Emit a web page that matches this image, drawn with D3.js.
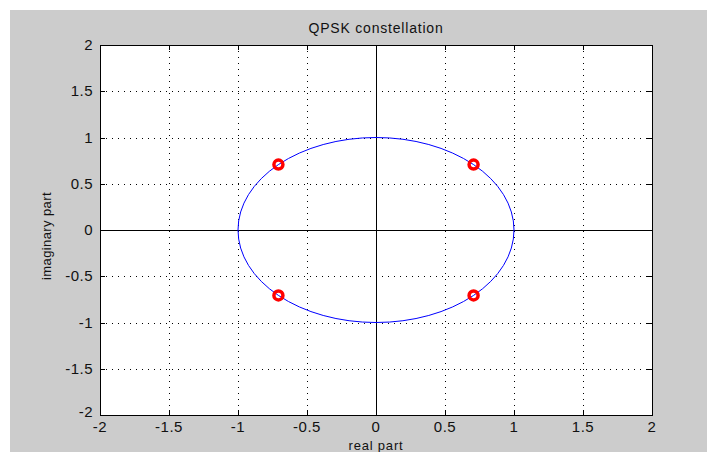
<!DOCTYPE html>
<html>
<head>
<meta charset="utf-8">
<script src="https://cdn.jsdelivr.net/npm/d3@7"></script>
<style>
  html, body { margin: 0; padding: 0; background: #fff; }
  svg { display: block; font-family: "Liberation Sans", Arial, sans-serif; }
</style>
</head>
<body>
<svg id="chart" width="707" height="452"></svg>
<script>
// ---- data ----
const xTicks = [-2, -1.5, -1, -0.5, 0, 0.5, 1, 1.5, 2];
const yTicks = [-2, -1.5, -1, -0.5, 0, 0.5, 1, 1.5, 2];
const symbolsRe = [0.7071, -0.7071, -0.7071, 0.7071];
const symbolsIm = [0.7071, 0.7071, -0.7071, -0.7071];
const unitRadius = [1];

const svg = d3.select("#chart");
const W = 707, H = 452;
const plot = { left: 100, top: 45, right: 652, bottom: 415 };

// figure background
svg.append("rect").attr("x", 10).attr("y", 10).attr("width", W - 10).attr("height", H - 10)
  .attr("fill", "#cccccc");

const x = d3.scaleLinear().domain([-2, 2]).range([plot.left, plot.right]);
const y = d3.scaleLinear().domain([-2, 2]).range([plot.bottom, plot.top]);

// axes background
svg.append("rect")
  .attr("x", plot.left).attr("y", plot.top)
  .attr("width", plot.right - plot.left).attr("height", plot.bottom - plot.top)
  .attr("fill", "#fff");

// dotted grid
const grid = svg.append("g").attr("stroke", "#000").attr("stroke-width", 1)
  .attr("stroke-dasharray", "1,5").attr("shape-rendering", "crispEdges");
grid.selectAll("line.gx").data(xTicks.slice(1, -1)).enter().append("line")
  .attr("x1", d => Math.round(x(d)) + 0.5).attr("x2", d => Math.round(x(d)) + 0.5)
  .attr("y1", plot.top).attr("y2", plot.bottom);
grid.selectAll("line.gy").data(yTicks.slice(1, -1)).enter().append("line")
  .attr("y1", d => Math.round(y(d)) + 0.5).attr("y2", d => Math.round(y(d)) + 0.5)
  .attr("x1", plot.left).attr("x2", plot.right);

// zero axes
svg.append("line").attr("x1", plot.left).attr("x2", plot.right)
  .attr("y1", Math.round(y(0)) + 0.5).attr("y2", Math.round(y(0)) + 0.5)
  .attr("stroke", "#000").attr("shape-rendering", "crispEdges");
svg.append("line").attr("y1", plot.top).attr("y2", plot.bottom)
  .attr("x1", Math.round(x(0)) + 0.5).attr("x2", Math.round(x(0)) + 0.5)
  .attr("stroke", "#000").attr("shape-rendering", "crispEdges");

// unit circle
svg.selectAll("ellipse.unit").data(unitRadius).enter().append("ellipse")
  .attr("cx", x(0)).attr("cy", y(0))
  .attr("rx", d => x(d) - x(0)).attr("ry", d => y(0) - y(d))
  .attr("fill", "none").attr("stroke", "#0000ff").attr("stroke-width", 1);

// constellation points
const pts = symbolsRe.map((re, i) => ({ re, im: symbolsIm[i] }));
svg.selectAll("circle.sym").data(pts).enter().append("circle")
  .attr("cx", d => x(d.re)).attr("cy", d => y(d.im)).attr("r", 4.5)
  .attr("fill", "none").attr("stroke", "#ff0000").attr("stroke-width", 3.5);

// axes box
svg.append("rect")
  .attr("x", plot.left + 0.5).attr("y", plot.top + 0.5)
  .attr("width", plot.right - plot.left).attr("height", plot.bottom - plot.top)
  .attr("fill", "none").attr("stroke", "#000").attr("shape-rendering", "crispEdges");

// ticks (inward, all four sides)
const tk = svg.append("g").attr("stroke", "#000").attr("shape-rendering", "crispEdges");
const tl = 5;
xTicks.forEach(d => {
  const px = Math.round(x(d)) + 0.5;
  tk.append("line").attr("x1", px).attr("x2", px).attr("y1", plot.bottom).attr("y2", plot.bottom - tl);
  tk.append("line").attr("x1", px).attr("x2", px).attr("y1", plot.top).attr("y2", plot.top + tl);
});
yTicks.forEach(d => {
  const py = Math.round(y(d)) + 0.5;
  tk.append("line").attr("y1", py).attr("y2", py).attr("x1", plot.left).attr("x2", plot.left + tl);
  tk.append("line").attr("y1", py).attr("y2", py).attr("x1", plot.right).attr("x2", plot.right - tl);
});

// tick labels
svg.selectAll("text.xt").data(xTicks).enter().append("text")
  .attr("x", d => x(d)).attr("y", plot.bottom + 17)
  .attr("text-anchor", "middle").attr("font-size", 15).attr("fill", "#111")
  .attr("letter-spacing", 0.5)
  .text(d => d);
svg.selectAll("text.yt").data(yTicks).enter().append("text")
  .attr("x", plot.left - 7).attr("y", d => y(d) + (d === -2 ? 2 : 5))
  .attr("text-anchor", "end").attr("font-size", 15).attr("fill", "#111")
  .attr("letter-spacing", 0.5)
  .text(d => d);

// title and labels
svg.append("text").attr("x", x(0)).attr("y", 33).attr("text-anchor", "middle")
  .attr("font-size", 14).attr("letter-spacing", 0.8).attr("fill", "#111").text("QPSK constellation");
svg.append("text").attr("x", x(0)).attr("y", 450).attr("text-anchor", "middle")
  .attr("font-size", 13).attr("letter-spacing", 0.8).attr("fill", "#111").text("real part");
svg.append("text").attr("transform", `translate(51,${y(0) + 6}) rotate(-90)`)
  .attr("text-anchor", "middle").attr("font-size", 13).attr("letter-spacing", 0.4)
  .attr("fill", "#111").text("imaginary part");
</script>
</body>
</html>
